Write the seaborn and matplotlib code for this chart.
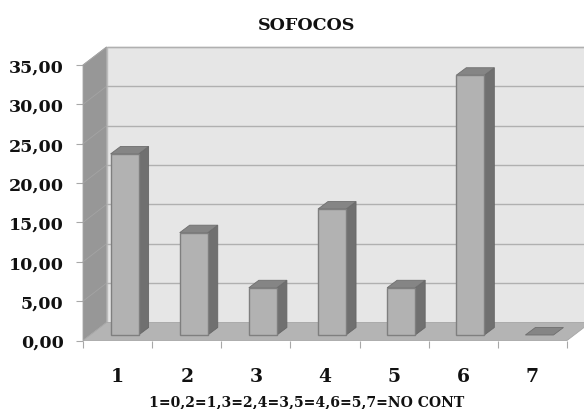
import seaborn as sns
import matplotlib
matplotlib.use('Agg')
import matplotlib.pyplot as plt
from matplotlib.patches import Polygon

# valores
categorias = ['1', '2', '3', '4', '5', '6', '7']
sofocos = [23.0, 13.0, 6.0, 16.0, 6.0, 33.0, 0.0]
ticks_y = [0, 5, 10, 15, 20, 25, 30, 35]
labels_y = ['0,00', '5,00', '10,00', '15,00', '20,00', '25,00', '30,00', '35,00']

W, H = 584, 410
sns.set_theme(style='white')
plt.rcParams['font.family'] = ['DejaVu Serif']
plt.rcParams['font.weight'] = 'bold'

fig = plt.figure(figsize=(W / 100, H / 100), dpi=100, facecolor='white')
# plano da frente: x 83-567, y 341.5-66 em pixels
ax = fig.add_axes([83 / W, 1 - 341.5 / H, 484 / W, 275.5 / H])

sns.barplot(x=categorias, y=sofocos, color='#b2b2b2', saturation=1, width=0.406,
            edgecolor='#7f7f7f', linewidth=1, ax=ax, zorder=5)
ax.set_xlim(-0.5, 6.5)
ax.set_ylim(0, 35)

# pixels para unidades de dados
px = 7 / 484
py = 35 / 275.5
wall_dx, wall_dy = 23.5 * px, 18 * py
bar_dx, bar_dy = 7 * px, 5.5 * py
dep_dx, dep_dy = 10 * px, 7.5 * py


def poly(pts, color, z, edge='none', lw=0.0):
    ax.add_patch(Polygon(pts, closed=True, facecolor=color, edgecolor=edge, linewidth=lw,
                         clip_on=False, zorder=z))


x0, x1 = -0.5, 6.5
# parede de fundo, lateral e piso
poly([(x0 + wall_dx, wall_dy), (x1 + wall_dx, wall_dy), (x1 + wall_dx, 35 + wall_dy), (x0 + wall_dx, 35 + wall_dy)],
     '#e6e6e6', 1, '#bcbcbc', 1.0)
poly([(x0, 0), (x0 + wall_dx, wall_dy), (x0 + wall_dx, 35 + wall_dy), (x0, 35)], '#979797', 2, '#a6a6a6', 0.6)
poly([(x0, 0), (x1, 0), (x1 + wall_dx, wall_dy), (x0 + wall_dx, wall_dy)], '#b4b4b4', 2, '#a6a6a6', 0.6)

# grades
for t in ticks_y[1:]:
    ax.plot([x0 + wall_dx, x1 + wall_dx], [t + wall_dy, t + wall_dy], color='#b0b0b0', lw=1.0, zorder=3, clip_on=False)
    ax.plot([x0, x0 + wall_dx], [t, t + wall_dy], color='#a4a4a4', lw=0.6, zorder=3, clip_on=False)

# barras deslocadas com lateral e topo
for b in ax.patches:
    if b.get_zorder() != 5:
        continue
    b.set_x(b.get_x() + bar_dx)
    b.set_y(bar_dy)
    b.set_clip_on(False)
    l, r = b.get_x(), b.get_x() + b.get_width()
    y0, y1 = bar_dy, bar_dy + b.get_height()
    if b.get_height() > 0:
        poly([(r, y0), (r + dep_dx, y0 + dep_dy), (r + dep_dx, y1 + dep_dy), (r, y1)], '#707070', 4, '#666666', 0.6)
    else:
        b.set_visible(False)
    poly([(l, y1), (r, y1), (r + dep_dx, y1 + dep_dy), (l + dep_dx, y1 + dep_dy)], '#858585', 4, '#6e6e6e', 0.6)

# eixos
sns.despine(ax=ax, left=True, bottom=True, top=True, right=True)
ax.set_yticks(ticks_y)
ax.set_yticklabels(labels_y, fontsize=12.6, fontweight='bold', color='#111111')
ax.tick_params(axis='y', left=True, length=5, width=0.8, color='#a8a8a8', pad=9)
ax.set_xticks(range(7))
ax.set_xticklabels(categorias, fontsize=13.5, fontweight='bold', color='#111111')
ax.set_xticks([i - 0.5 for i in range(8)], minor=True)
ax.tick_params(axis='x', which='major', bottom=False, pad=13)
ax.tick_params(axis='x', which='minor', bottom=True, length=5, width=0.8, color='#a8a8a8')
ax.set_xlabel('')
ax.set_ylabel('')
ax.grid(False)
ax.patch.set_visible(False)

fig.text(307 / W, 1 - 25 / H, 'SOFOCOS', ha='center', va='center', fontsize=12.6, fontweight='bold', color='#111111')
fig.text(307 / W, 1 - 402 / H, '1=0,2=1,3=2,4=3,5=4,6=5,7=NO CONT', ha='center', va='center',
         fontsize=10.1, fontweight='bold', color='#111111')

fig.savefig('out.png', dpi=100, facecolor='white')
